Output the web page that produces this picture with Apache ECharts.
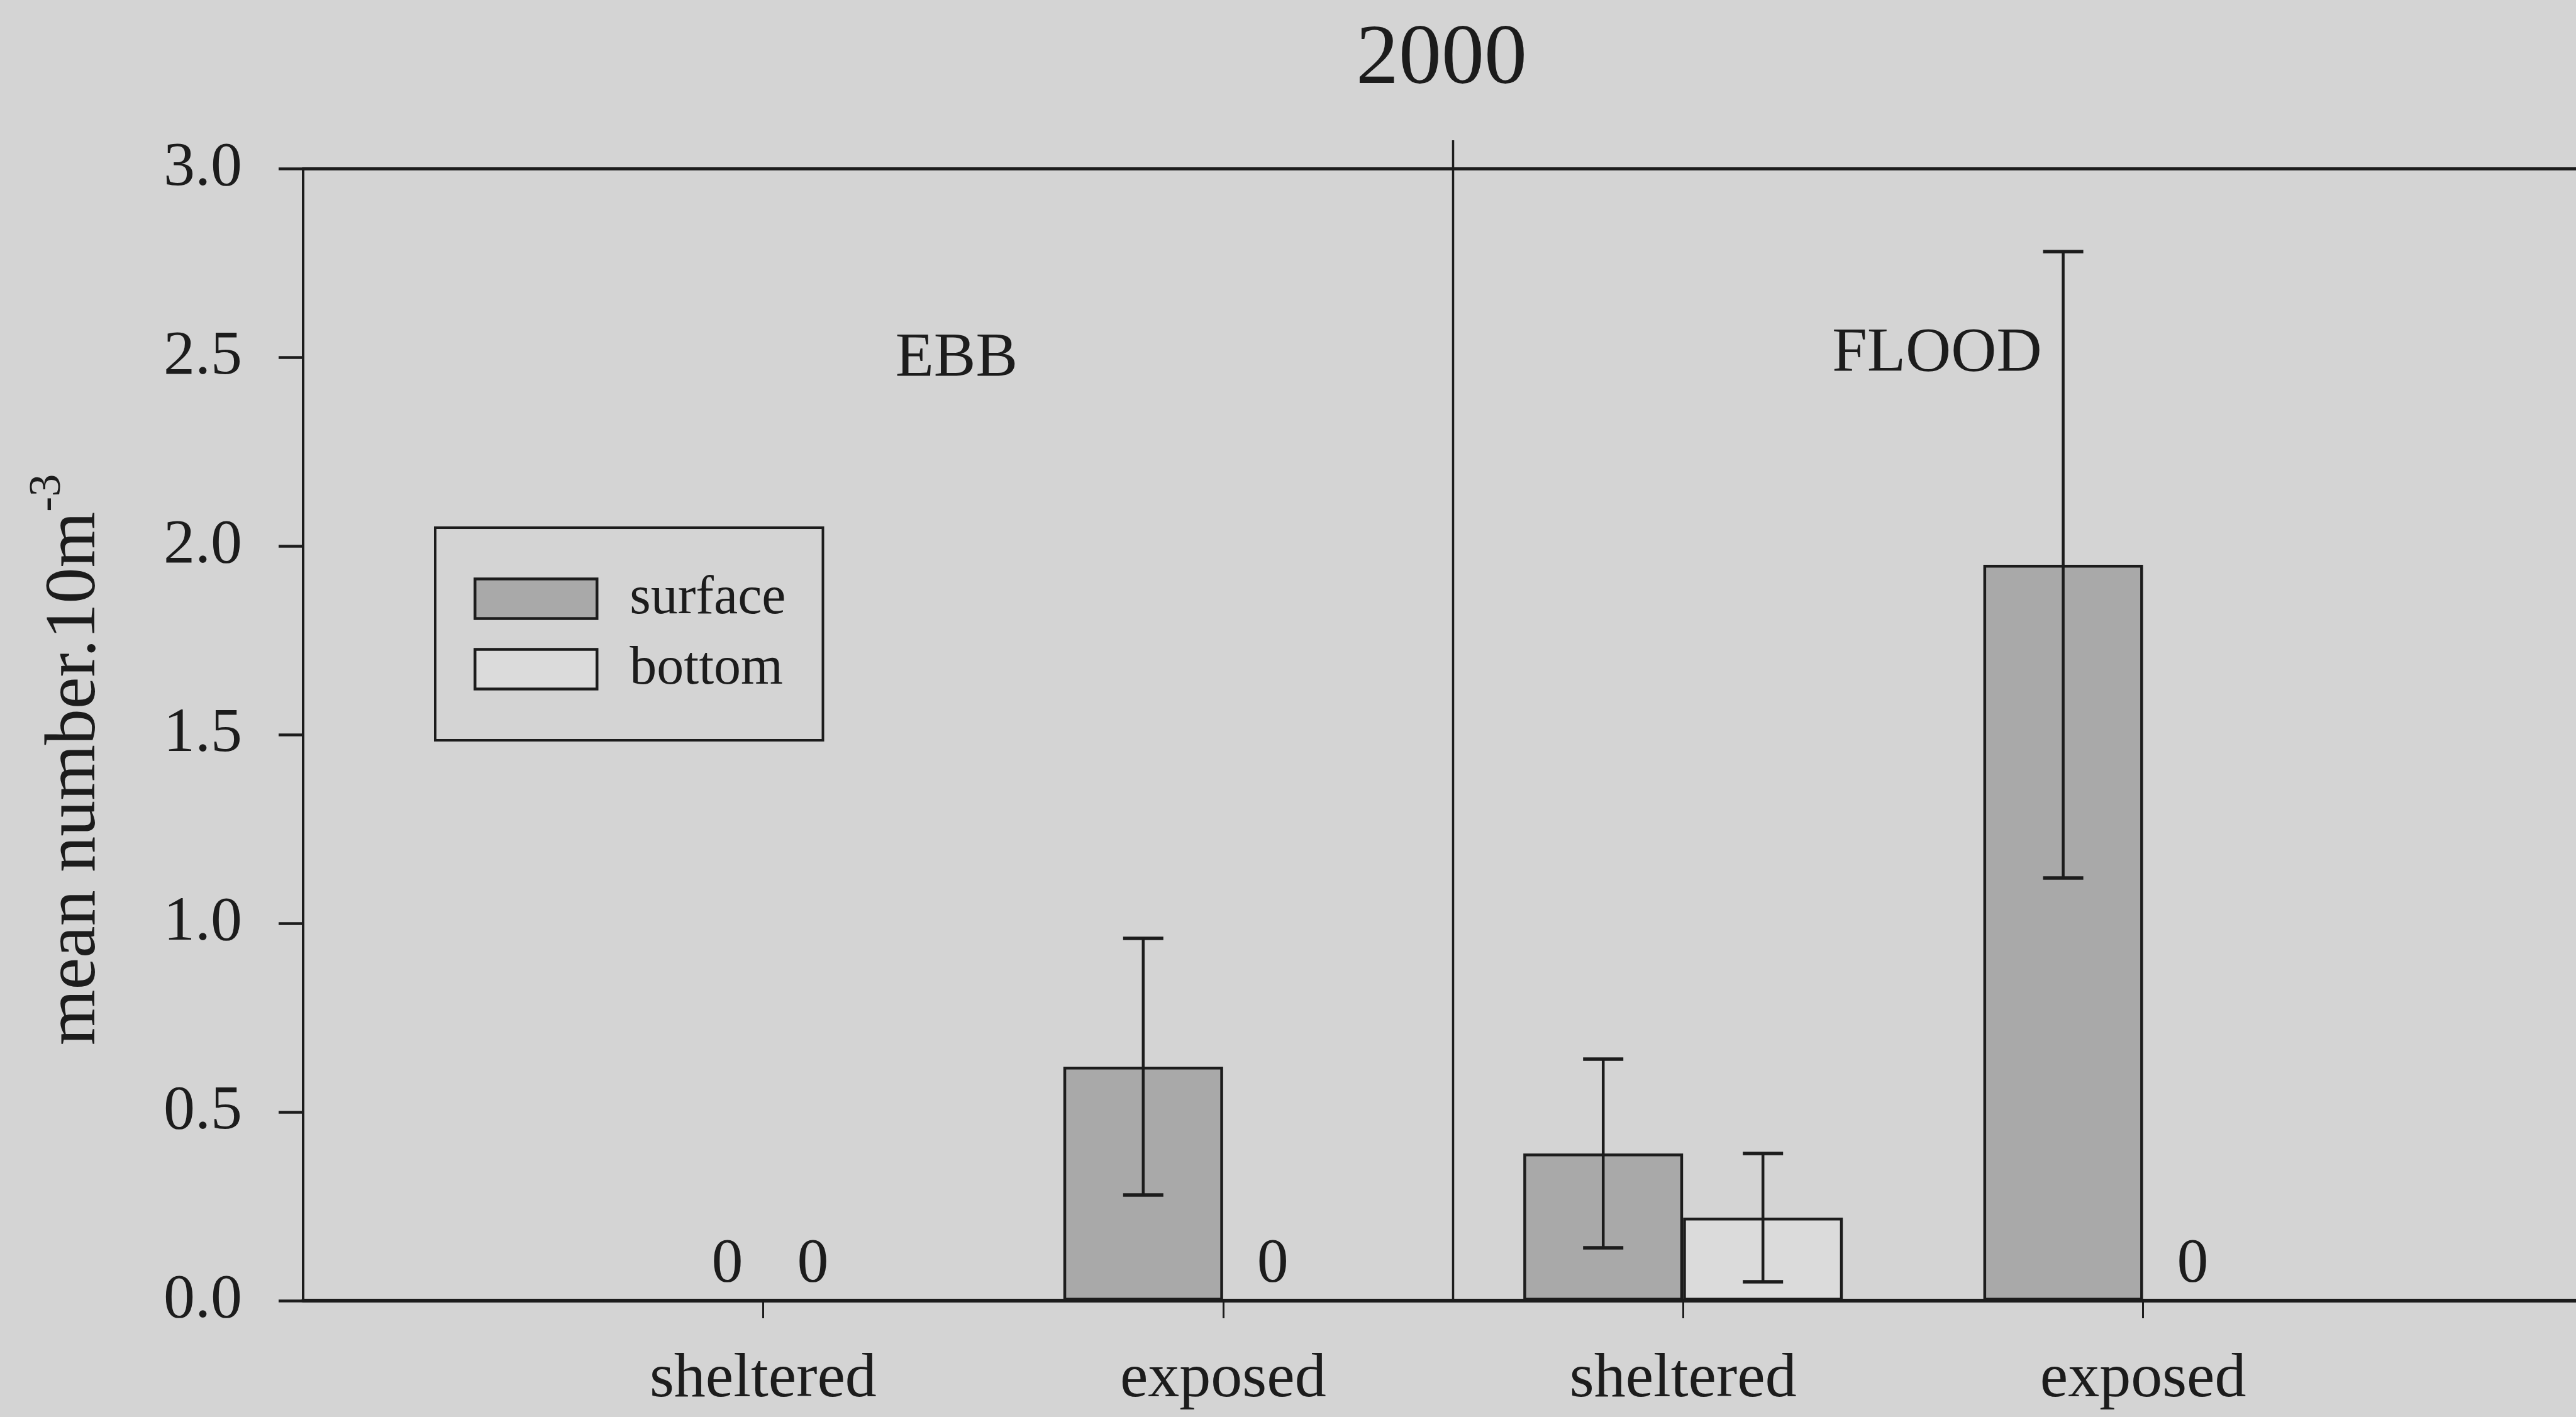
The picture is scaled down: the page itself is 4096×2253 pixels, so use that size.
<!DOCTYPE html>
<html>
<head>
<meta charset="utf-8">
<style>
  html, body { margin: 0; padding: 0; background: #d4d4d4; }
  #chart { width: 4096px; height: 2253px; }
</style>
<script src="https://cdn.jsdelivr.net/npm/echarts@6/dist/echarts.min.js"></script>
</head>
<body>
<div id="chart"></div>
<script>
// Mean catch per 10 m^3, 2000 survey, by tide, site and depth
const year = '2000';
const tides = ['EBB', 'FLOOD'];
const categories = ['sheltered', 'exposed', 'sheltered', 'exposed'];
const surfaceMean = [0, 0.62, 0.39, 1.95];
const surfaceErr  = [0, 0.34, 0.25, 0.83];
const bottomMean  = [0, 0, 0.22, 0];
const bottomErr   = [0, 0, 0.17, 0];
const yTicks = [0, 0.5, 1.0, 1.5, 2.0, 2.5, 3.0];

const FONT = 'Liberation Serif';
const INK = '#1c1c1c';
const BG = '#d4d4d4';
const SURFACE_FILL = '#a9a9a9';
const BOTTOM_FILL = '#dbdbdb';
const BAR_W = 254;

// one empty slot at the y axis and one past the last group
const slots = [''].concat(categories, ['']);
const pad = arr => [null].concat(arr, [null]);

function errorData(means, errs, side) {
  return means.map((m, i) => [i + 1, m, errs[i], side]);
}

function renderError(params, api) {
  const k = api.value(0), m = api.value(1), e = api.value(2), side = api.value(3);
  if (!(e > 0)) return null;
  const x = api.coord([k, m])[0] + side * BAR_W / 2;
  const yTop = api.coord([k, m + e])[1];
  const yBot = api.coord([k, m - e])[1];
  const cap = 32;
  return {
    type: 'group',
    children: [
      { type: 'line', shape: { x1: x, y1: yTop, x2: x, y2: yBot }, style: { stroke: INK, lineWidth: 4.5 } },
      { type: 'line', shape: { x1: x - cap, y1: yTop, x2: x + cap, y2: yTop }, style: { stroke: INK, lineWidth: 5.5 } },
      { type: 'line', shape: { x1: x - cap, y1: yBot, x2: x + cap, y2: yBot }, style: { stroke: INK, lineWidth: 5.5 } }
    ]
  };
}

// vertical rule between the ebb and flood panels
function renderDivider(params, api) {
  const yMax = yTicks[yTicks.length - 1];
  const x = (api.coord([2, 0])[0] + api.coord([3, 0])[0]) / 2;
  const y1 = api.coord([2, 0])[1];
  const y2 = api.coord([2, yMax])[1] - 45;
  return { type: 'line', shape: { x1: x, y1: y1, x2: x, y2: y2 }, style: { stroke: INK, lineWidth: 3.5 } };
}

const zeroLabel = dx => ({
  show: true,
  position: 'top',
  distance: 5,
  offset: [dx, 0],
  formatter: p => (p.value === 0 ? '0' : ''),
  fontFamily: FONT,
  fontSize: 100,
  color: INK
});

const chart = echarts.init(document.getElementById('chart'), null, { renderer: 'canvas' });

chart.setOption({
  backgroundColor: BG,
  animation: false,
  textStyle: { fontFamily: FONT, color: INK },
  grid: { left: 482, right: -43, top: 268, bottom: 185, containLabel: false, outerBoundsMode: 'none' },
  legend: {
    left: 692,
    top: 839,
    orient: 'vertical',
    data: ['surface', 'bottom'],
    icon: 'rect',
    itemWidth: 194,
    itemHeight: 63,
    itemGap: 26,
    padding: [70, 59, 70, 61],
    borderColor: INK,
    borderWidth: 4,
    borderRadius: 0,
    selectedMode: false,
    itemStyle: { borderColor: INK, borderWidth: 4.5 },
    textStyle: { fontFamily: FONT, fontSize: 86, color: INK, padding: [0, 0, 0, 47] }
  },
  xAxis: [
    {
      type: 'category',
      data: slots,
      boundaryGap: false,
      position: 'bottom',
      axisLine: { show: true, onZero: false, lineStyle: { color: INK, width: 6 } },
      axisTick: {
        show: true,
        inside: false,
        length: 28,
        interval: i => i > 0 && i < slots.length - 1,
        lineStyle: { color: INK, width: 3 }
      },
      axisLabel: { interval: 0, margin: 76, fontFamily: FONT, fontSize: 100, color: INK },
      splitLine: { show: false }
    },
    {
      type: 'category',
      data: slots,
      boundaryGap: false,
      position: 'top',
      axisLine: { show: true, onZero: false, lineStyle: { color: INK, width: 5 } },
      axisTick: { show: false },
      axisLabel: { show: false },
      splitLine: { show: false }
    }
  ],
  yAxis: {
    type: 'value',
    min: yTicks[0],
    max: yTicks[yTicks.length - 1],
    interval: yTicks[1] - yTicks[0],
    axisLine: { show: true, lineStyle: { color: INK, width: 4 } },
    axisTick: { show: true, inside: false, length: 39, lineStyle: { color: INK, width: 4.5 } },
    axisLabel: { margin: 97, fontFamily: FONT, fontSize: 100, color: INK, formatter: v => v.toFixed(1) },
    splitLine: { show: false }
  },
  series: [
    {
      name: 'surface',
      type: 'bar',
      data: pad(surfaceMean),
      barWidth: BAR_W,
      barGap: '0%',
      itemStyle: { color: SURFACE_FILL, borderColor: INK, borderWidth: 4.5 },
      label: zeroLabel(70),
      z: 2
    },
    {
      name: 'bottom',
      type: 'bar',
      data: pad(bottomMean),
      barWidth: BAR_W,
      barGap: '0%',
      itemStyle: { color: BOTTOM_FILL, borderColor: INK, borderWidth: 4.5 },
      label: zeroLabel(-48),
      z: 2
    },
    {
      type: 'custom',
      renderItem: renderError,
      encode: { x: 0, y: 1 },
      data: errorData(surfaceMean, surfaceErr, -1).concat(errorData(bottomMean, bottomErr, 1)),
      z: 4
    },
    {
      type: 'custom',
      renderItem: renderDivider,
      encode: { x: 0, y: 1 },
      data: [[2, 0]],
      z: 3
    }
  ],
  graphic: [
    {
      type: 'text', x: 2292, y: 96,
      style: { text: year, fontFamily: FONT, fontSize: 136, fill: INK, align: 'center', verticalAlign: 'middle' }
    },
    {
      type: 'text', x: 1521, y: 571,
      style: { text: tides[0], fontFamily: FONT, fontSize: 100, fill: INK, align: 'center', verticalAlign: 'middle' }
    },
    {
      type: 'text', x: 3080, y: 563,
      style: { text: tides[1], fontFamily: FONT, fontSize: 100, fill: INK, align: 'center', verticalAlign: 'middle' }
    },
    {
      type: 'text', x: 120, y: 1208, rotation: Math.PI / 2,
      style: {
        text: '{m|mean number.10m}{s|-3}',
        align: 'center',
        verticalAlign: 'middle',
        fill: INK,
        rich: {
          m: { fontFamily: FONT, fontSize: 114, lineHeight: 160, fill: INK },
          s: { fontFamily: FONT, fontSize: 72, lineHeight: 72, verticalAlign: 'top', fill: INK }
        }
      }
    }
  ]
});
</script>
</body>
</html>
